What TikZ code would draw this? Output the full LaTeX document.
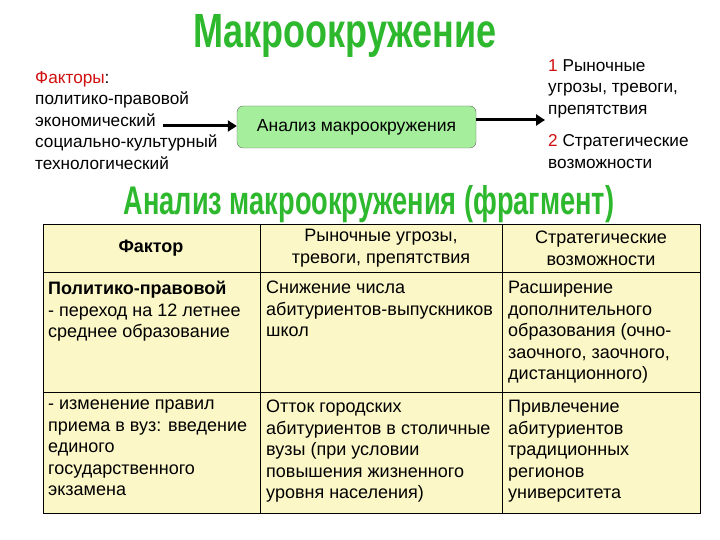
\documentclass[tikz,border=0pt]{standalone}
\usepackage{fontspec}
\setmainfont{Liberation Sans}
\usetikzlibrary{arrows.meta}
\definecolor{cellbg}{HTML}{FBF7C6}
\definecolor{boxg}{HTML}{A4EE9C}
\definecolor{titleg}{HTML}{2DB82D}
\definecolor{darkred}{HTML}{D01010}
\tikzset{
  txt/.style={anchor=north west,inner sep=0pt,align=left,font=\fontsize{17.2}{21.5}\selectfont},
  cell/.style={draw=black,line width=1pt,fill=cellbg},
  ctext/.style={anchor=north west,inner sep=0pt,align=left,font=\fontsize{18}{21.5}\selectfont},
  htext/.style={anchor=center,inner sep=0pt,align=center,font=\fontsize{18}{22}\selectfont},
  title/.style={inner sep=0pt,text=titleg,font=\bfseries},
  arr/.style={line width=3pt,-{Triangle[length=9pt,width=11pt]}}
}
\begin{document}
\begin{tikzpicture}[x=1pt,y=-1pt]
\useasboundingbox[fill=white] (0,0) rectangle (720,540);
\node[title] (t1) at (345,36) {\scalebox{0.75}[1]{\fontsize{48}{48}\selectfont Макроокружение}};
\node[txt] (fac) at (35,71) {{\color{darkred}Факторы}:\\политико-правовой\\экономический\\социально-культурный\\технологический};
\node[draw=black!60,fill=boxg,rounded corners=6pt,minimum width=239pt,minimum height=42pt,font=\fontsize{17.5}{18}\selectfont] (an) at (356.5,127) {Анализ макроокружения};
\coordinate (s1) at (163,126);
\draw[arr] (s1) -- (an.west |- s1);
\coordinate (e1) at (545,120);
\draw[arr] (an.east |- e1) -- (e1);
\node[txt] (res) at (548,59) {{\color{darkred}1} Рыночные\\угрозы, тревоги,\\препятствия\\[11pt]{\color{darkred}2} Стратегические\\возможности};
\node[title] (t2) at (369,204) {\scalebox{0.68}[1]{\fontsize{40}{40}\selectfont Анализ макроокружения (фрагмент)}};
% table
\path[cell] (43,225) rectangle (700,513);
\draw[line width=1pt] (43,272) -- (700,272) (43,392) -- (700,392) (260,225) -- (260,513) (502,225) -- (502,513);
\node[htext,font=\bfseries\fontsize{18}{22}\selectfont] (h1) at (151,248) {Фактор};
\node[htext] (h2) at (381,248) {Рыночные угрозы,\\тревоги, препятствия};
\node[htext] (h3) at (601,248) {Стратегические\\возможности};
\node[ctext] (c11) at (48,281) {\textbf{Политико-правовой}\\- переход на 12 летнее\\среднее образование};
\node[ctext] (c12) at (266,281) {Снижение числа\\абитуриентов-выпускников\\школ};
\node[ctext] (c13) at (508,281) {Расширение\\дополнительного\\образования (очно-\\заочного, заочного,\\дистанционного)};
\node[ctext] (c21) at (48,400) {- изменение правил\\приема в вуз: введение\\единого\\государственного\\экзамена};
\node[ctext] (c22) at (266,400) {Отток городских\\абитуриентов в столичные\\вузы (при условии\\повышения жизненного\\уровня населения)};
\node[ctext] (c23) at (508,400) {Привлечение\\абитуриентов\\традиционных\\регионов\\университета};
\end{tikzpicture}
\end{document}
